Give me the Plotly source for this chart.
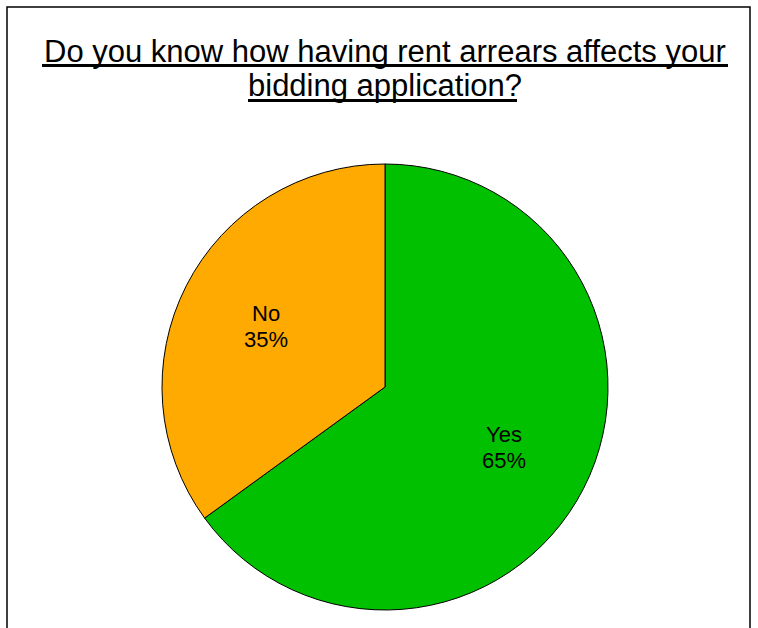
import math
import plotly.graph_objects as go

# Survey responses
labels = ["Yes", "No"]
values = [65, 35]
colors = ["#00C000", "#FFAA00"]

title_lines = ["Do you know how having rent arrears affects your", "bidding application?"]

W, H = 758, 628
FONT = "Liberation Sans, Arial, sans-serif"

# Pie placement in pixels (centre and radius)
cx, cy, r = 385, 387, 223

fig = go.Figure(
    go.Pie(
        labels=labels,
        values=values,
        sort=False,
        direction="clockwise",
        rotation=0,
        marker=dict(colors=colors, line=dict(color="black", width=1)),
        textinfo="none",
        domain=dict(x=[(cx - r) / W, (cx + r) / W], y=[1 - (cy + r) / H, 1 - (cy - r) / H]),
        showlegend=False,
        hoverinfo="label+percent",
    )
)

# Slice labels at 60% radius along each slice's mid-angle
total = sum(values)
start = 0.0
for lab, v in zip(labels, values):
    mid = (start + v / 2) / total * 2 * math.pi
    start += v
    px = cx + 0.6 * r * math.sin(mid)
    py = cy - 0.6 * r * math.cos(mid)
    pct = f"{round(100 * v / total)}%"
    for txt, dy in ((lab, -13), (pct, 13)):
        fig.add_annotation(
            text=txt, xref="paper", yref="paper",
            x=px / W, y=1 - (py + dy) / H,
            xanchor="center", yanchor="middle", showarrow=False,
            font=dict(family=FONT, size=22, color="black"),
        )

# Title, two centred lines with heavy underlines
title_y = [51, 86]
for line, ty in zip(title_lines, title_y):
    fig.add_annotation(
        text=line, xref="paper", yref="paper",
        x=cx / W, y=1 - ty / H,
        xanchor="center", yanchor="middle", showarrow=False,
        font=dict(family=FONT, size=31, color="black"),
    )
underlines = [(42, 728, 65.5), (248, 517, 100.5)]
for x0, x1, uy in underlines:
    fig.add_shape(
        type="line", xref="paper", yref="paper",
        x0=x0 / W, x1=x1 / W, y0=1 - uy / H, y1=1 - uy / H,
        line=dict(color="black", width=3),
    )

# Chart area frame
fig.add_shape(
    type="rect", xref="paper", yref="paper",
    x0=7 / W, x1=750 / W, y0=-0.05, y1=1 - 7 / H,
    line=dict(color="black", width=1.5),
    fillcolor="rgba(0,0,0,0)",
)

fig.update_layout(
    width=W, height=H,
    margin=dict(l=0, r=0, t=0, b=0),
    paper_bgcolor="white",
    plot_bgcolor="white",
)

fig.write_html("out.html")
